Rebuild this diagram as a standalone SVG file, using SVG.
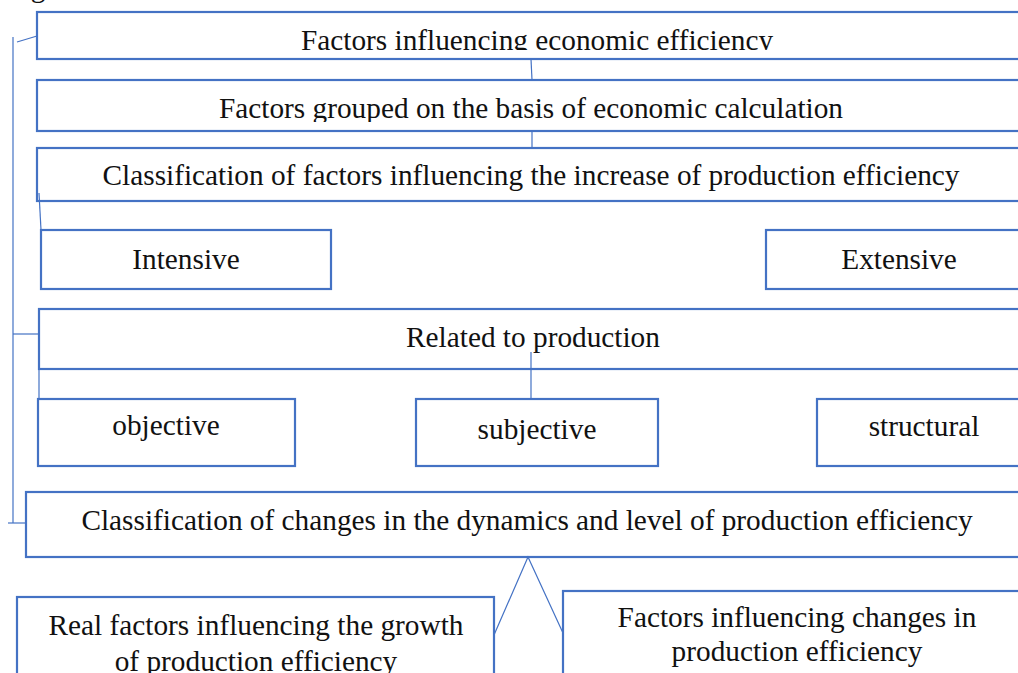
<svg xmlns="http://www.w3.org/2000/svg" width="1018" height="673" viewBox="0 0 1018 673">
  <style>
    .box { fill: #ffffff; stroke: #4472C4; stroke-width: 2.2; }
    .lbl { font-family: "Liberation Serif", "Times New Roman", serif; font-size: 29.3px; fill: #111111; text-anchor: middle; }
    .wire { fill: none; stroke: #4472C4; stroke-width: 1.2; }
  </style>
  <defs>
    <clipPath id="clip-top"><rect x="0" y="0" width="1018" height="50"/></clipPath>
    <clipPath id="clip-grouped"><rect x="0" y="80" width="1018" height="42"/></clipPath>
  </defs>

  <rect width="1018" height="673" fill="#ffffff"/>

  <!-- caption line above the frame, only its tail shows -->
  <text class="lbl" x="38" y="-3">g</text>

  <g id="n-factors">
    <rect class="box" x="37" y="12" width="1000" height="47"/>
    <text class="lbl" x="537" y="50" clip-path="url(#clip-top)">Factors influencing economic efficiency</text>
  </g>

  <g id="n-grouped">
    <rect class="box" x="37" y="80" width="1000" height="51"/>
    <text class="lbl" x="531" y="118" clip-path="url(#clip-grouped)">Factors grouped on the basis of economic calculation</text>
  </g>

  <g id="n-classification">
    <rect class="box" x="37" y="148" width="1000" height="53"/>
    <text class="lbl" x="531" y="185">Classification of factors influencing the increase of production efficiency</text>
  </g>

  <g id="n-intensive">
    <rect class="box" x="41" y="230" width="290" height="59"/>
    <text class="lbl" x="186" y="269">Intensive</text>
  </g>

  <g id="n-extensive">
    <rect class="box" x="766" y="230" width="270" height="59"/>
    <text class="lbl" x="899" y="269">Extensive</text>
  </g>

  <g id="n-related">
    <rect class="box" x="39" y="309" width="1000" height="60"/>
    <text class="lbl" x="533" y="347">Related to production</text>
  </g>

  <g id="n-objective">
    <rect class="box" x="38" y="399" width="257" height="67"/>
    <text class="lbl" x="166" y="435">objective</text>
  </g>

  <g id="n-subjective">
    <rect class="box" x="416" y="399" width="242" height="67"/>
    <text class="lbl" x="537" y="439">subjective</text>
  </g>

  <g id="n-structural">
    <rect class="box" x="817" y="399" width="220" height="67"/>
    <text class="lbl" x="924" y="436">structural</text>
  </g>

  <g id="n-changes">
    <rect class="box" x="26" y="492" width="1010" height="65"/>
    <text class="lbl" x="527" y="530">Classification of changes in the dynamics and level of production efficiency</text>
  </g>

  <g id="n-real">
    <rect class="box" x="17" y="597" width="477" height="90"/>
    <text class="lbl" x="256" y="635">Real factors influencing the growth</text>
    <text class="lbl" x="256" y="671">of production efficiency</text>
  </g>

  <g id="n-changes-factors">
    <rect class="box" x="563" y="591" width="475" height="95"/>
    <text class="lbl" x="797" y="627">Factors influencing changes in</text>
    <text class="lbl" x="797" y="661">production efficiency</text>
  </g>

  <g id="connectors">
    <!-- left bracket -->
    <path class="wire" d="M13,37 V523"/>
    <path class="wire" d="M17,42 L37,36"/>
    <path class="wire" d="M13,334 H39"/>
    <path class="wire" d="M8,523 H26"/>
    <!-- vertical links -->
    <path class="wire" d="M531,59 L532,80"/>
    <path class="wire" d="M532,131 V148"/>
    <path class="wire" d="M39,193 L41,230"/>
    <path class="wire" d="M39,369 V399"/>
    <path class="wire" d="M531,352 V399"/>
    <!-- fork to the two bottom boxes -->
    <path class="wire" d="M494,635 L528,557 L563,633"/>
  </g>
</svg>
